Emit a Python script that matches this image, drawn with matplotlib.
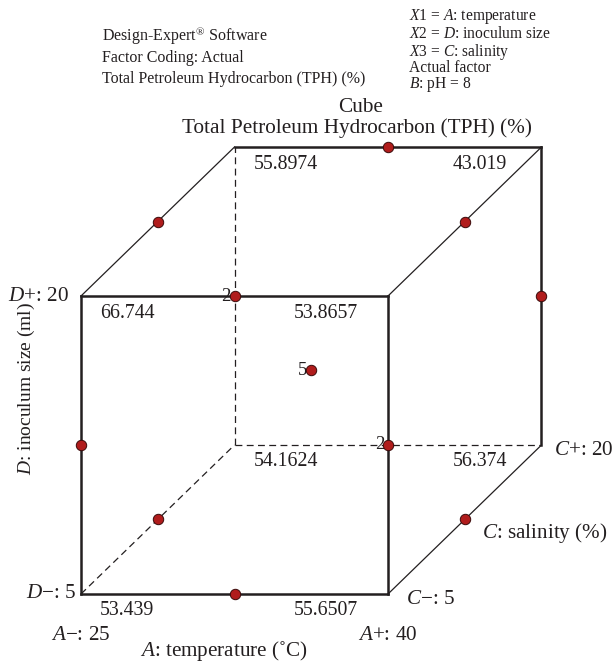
import matplotlib
matplotlib.use("Agg")
import matplotlib.pyplot as plt
from matplotlib import transforms
from collections import Counter

plt.rcParams["font.family"] = ["Liberation Serif", "DejaVu Serif"]
plt.rcParams["mathtext.fontset"] = "custom"
plt.rcParams["mathtext.rm"] = "Liberation Serif"
plt.rcParams["mathtext.it"] = "Liberation Serif:italic"

INK = "#231f20"
DOT = "#b01c1c"

# Actual factor levels at the low / high end of each cube axis
temp_levels = [25, 40]      # A: temperature (deg C)
inoc_levels = [5, 20]       # D: inoculum size (ml)
sal_levels = [5, 20]        # C: salinity (%)

# Predicted TPH (%) at the cube corners, coded as (A, D, C)
corner_codes = [(-1, -1, -1), (1, -1, -1), (-1, 1, -1), (1, 1, -1),
                (-1, -1, 1), (1, -1, 1), (-1, 1, 1), (1, 1, 1)]
corner_tph = [53.439, 55.6507, 66.744, 53.8657,
              54.1624, 56.374, 55.8974, 43.019]

# Box-Behnken runs (coded A, D, C): edge midpoints plus replicated centre
edge_runs = [(-1, -1, 0), (-1, 1, 0), (1, -1, 0), (1, 1, 0),
             (-1, 0, -1), (-1, 0, 1), (1, 0, -1), (1, 0, 1),
             (0, -1, -1), (0, -1, 1), (0, 1, -1), (0, 1, 1)]
center_runs = [(0, 0, 0)] * 5


def project(a, d, c):
    """Oblique projection: the C axis runs up and to the right."""
    s = 0.5 * (c + 1)
    return a + s, d + s


fig = plt.figure(figsize=(6.13, 6.62), dpi=100)
ax = fig.add_axes([0, 0, 1, 1])
ax.set_xlim(-1.5277, 2.4658)
ax.set_ylim(-1.4564, 2.9866)
ax.axis("off")


def at(dx, dy):
    """Data transform shifted by dx, dy screen pixels (dy downward)."""
    return transforms.offset_copy(ax.transData, fig=fig, x=dx, y=-dy, units="dots")


# Cube edges
hidden = (-1, -1, 1)
for i, p in enumerate(corner_codes):
    for q in corner_codes[i + 1:]:
        diff = [k for k in range(3) if p[k] != q[k]]
        if len(diff) != 1:
            continue
        (x0, y0), (x1, y1) = project(*p), project(*q)
        if hidden in (p, q):
            ax.plot([x0, x1], [y0, y1], color=INK, lw=0.9,
                    linestyle=(0, (5.5, 3.5)), solid_capstyle="butt")
        elif diff[0] == 2:
            ax.plot([x0, x1], [y0, y1], color=INK, lw=0.9)
        else:
            ax.plot([x0, x1], [y0, y1], color=INK, lw=1.8,
                    solid_capstyle="projecting")

# Design points; coincident projections get a replicate count
counts = Counter(project(*r) for r in edge_runs + center_runs)
for (x, y), n in counts.items():
    ax.plot([x], [y], "o", ms=7.5, color=DOT, mec="#3a0a0a", mew=0.7, zorder=5)
    if n > 1:
        ax.text(x, y, str(n), transform=at(-4, 0), ha="right", va="center",
                fontsize=13.5, color=INK)

# Corner response values
for code, val in zip(corner_codes, corner_tph):
    x, y = project(*code)
    if code[0] < 0:
        ax.text(x, y, f"{val:g}", transform=at(19, 17), ha="left", va="center",
                fontsize=14.3, color=INK)
    else:
        ax.text(x, y, f"{val:g}", transform=at(-62, 17), ha="center", va="center",
                fontsize=14.3, color=INK)

# Axis end labels
lab = dict(fontsize=15.2, color=INK)
x, y = project(-1, -1, -1)
ax.text(x, y, f"$A$\u2212: {temp_levels[0]}", transform=at(0, 42), ha="center", va="center", **lab)
ax.text(x, y, f"$D$\u2212: {inoc_levels[0]}", transform=at(-5, 0), ha="right", va="center", **lab)
x, y = project(1, -1, -1)
ax.text(x, y, f"$A$+: {temp_levels[1]}", transform=at(0, 42), ha="center", va="center", **lab)
ax.text(x, y, f"$C$\u2212: {sal_levels[0]}", transform=at(18, 6), ha="left", va="center", **lab)
x, y = project(-1, 1, -1)
ax.text(x, y, f"$D$+: {inoc_levels[1]}", transform=at(-12, 0), ha="right", va="center", **lab)
x, y = project(1, -1, 1)
ax.text(x, y, f"$C$+: {sal_levels[1]}", transform=at(13, 6), ha="left", va="center", **lab)

# Factor names
x, y = project(0, -1, -1)
ax.text(x, y, "$A$: temperature (\u02daC)", transform=at(-11, 57), ha="center", va="center", **lab)
x, y = project(1, -1, 0)
ax.text(x, y, "$C$: salinity (%)", transform=at(17, 14), ha="left", va="center", **lab)
x, y = project(-1, 0, -1)
ax.text(x, y, "$D$: inoculum size (ml)", transform=at(-55, -57), ha="center", va="center",
        rotation=90, fontsize=14, color=INK)

# Header block
W, H = 613, 662


def ftext(px, py, s, **kw):
    fig.text(px / W, 1 - py / H, s, color=INK, va="center", **kw)


hdr = dict(fontsize=11.5, ha="left")
ftext(102, 36, "Design-Expert$^{\u00ae}$ Software", **hdr)
ftext(102, 58, "Factor Coding: Actual", **hdr)
ftext(102, 79, "Total Petroleum Hydrocarbon (TPH) (%)", **hdr)
rhs = dict(fontsize=11.2, ha="left")
ftext(409, 17, "$X$1 = $A$: temperature", **rhs)
ftext(409, 34, "$X$2 = $D$: inoculum size", **rhs)
ftext(409, 52, "$X$3 = $C$: salinity", **rhs)
ftext(409, 68.5, "Actual factor", **rhs)
ftext(409, 85, "$B$: pH = 8", **rhs)
ftext(361, 108, "Cube", fontsize=15.3, ha="center")
ftext(357, 128, "Total Petroleum Hydrocarbon (TPH) (%)", fontsize=15.3, ha="center")

fig.savefig("out.png", dpi=100)
